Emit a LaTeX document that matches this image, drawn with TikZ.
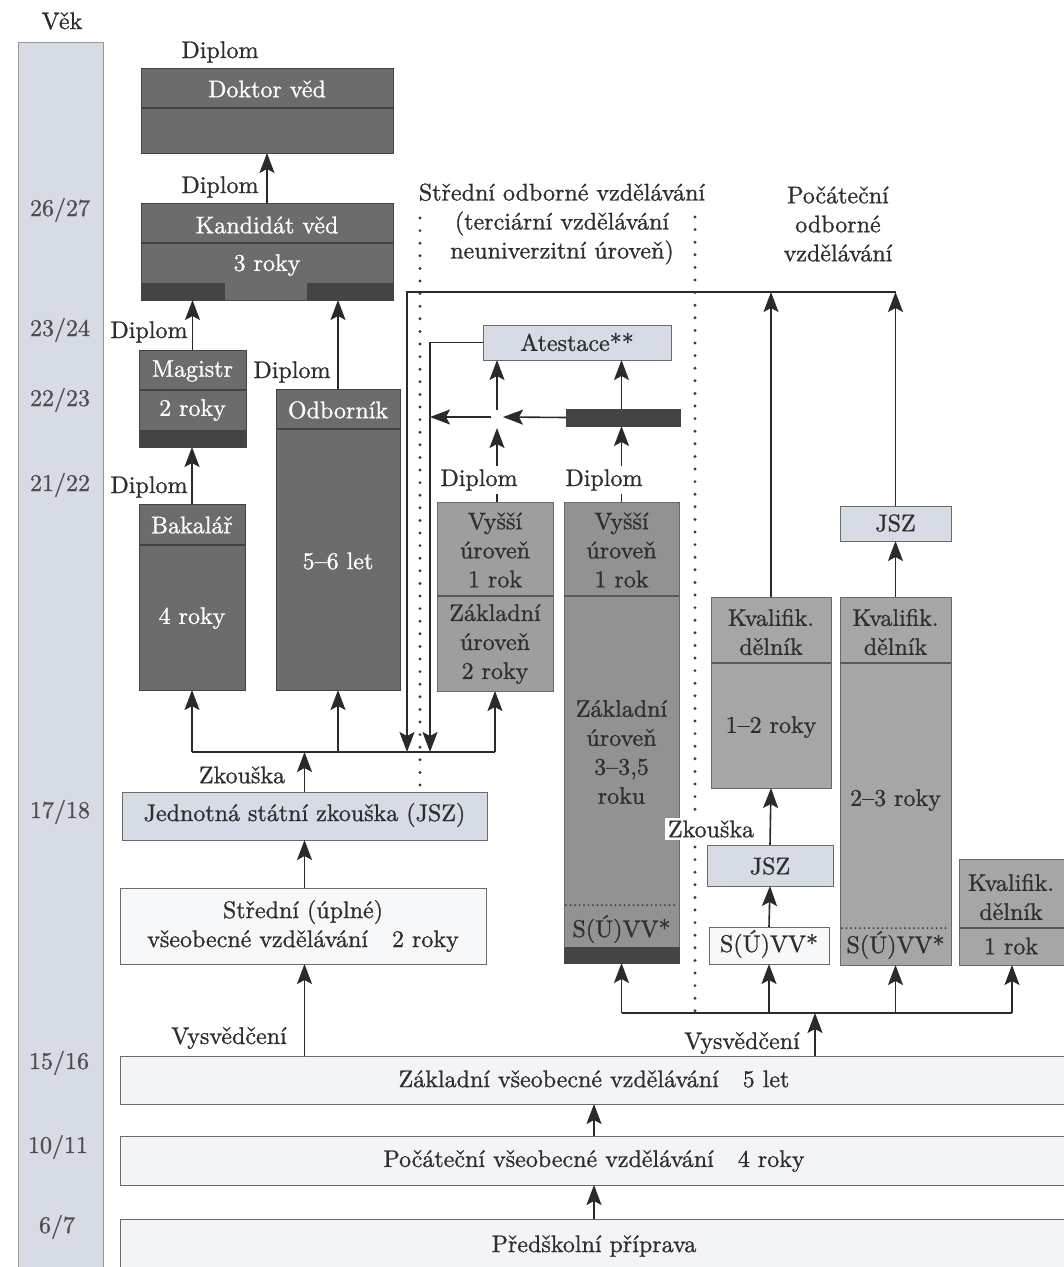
\documentclass[tikz,border=0pt]{standalone}
\usepackage{fontspec}
\newfontfamily\gfont{lmroman10-regular.otf}[FakeBold=1.0]
\usetikzlibrary{arrows.meta,calc}
\newcommand\fsz{\gfont\fontsize{24}{29}\selectfont}
\newcommand\mkbox[6]{\node[#2,minimum width={#5-#3},minimum height={#6-#4}] (#1) at ({(#3+#5)/2},{(#4+#6)/2}) {};}
\definecolor{agec}{HTML}{D6DBE6}
\definecolor{dk}{HTML}{6C6C6C}
\definecolor{dkbar}{HTML}{444444}
\definecolor{mida}{HTML}{9E9E9E}
\definecolor{midb}{HTML}{929292}
\definecolor{midc}{HTML}{A6A6A6}
\definecolor{lb}{HTML}{D6DBE6}
\definecolor{wb}{HTML}{F7F8FA}
\definecolor{botc}{HTML}{F2F4F8}
\definecolor{txtc}{HTML}{2E2E2E}
\definecolor{linec}{HTML}{2A2A2A}
\definecolor{bordc}{HTML}{6A6A6A}
\definecolor{dotc}{HTML}{3A3A3A}
\begin{document}
\begin{tikzpicture}[x=1pt,y=-1pt,
  every node/.style={inner sep=0pt,outer sep=0pt},
  txt/.style={font=\fsz,text=txtc,align=center},
  wtxt/.style={font=\fsz,text=white,align=center},
  agel/.style={font=\fsz,text=txtc!85},
  lbl/.style={font=\fsz,text=txtc},
  wlbl/.style={font=\fsz,text=txtc,fill=white,inner sep=3pt},
  basebox/.style={draw=bordc,line width=0.9pt},
  agebox/.style={basebox,fill=agec,draw=bordc!70},
  dkbox/.style={basebox,fill=dk,draw=dkbar},
  mabox/.style={basebox,fill=mida},
  mbbox/.style={basebox,fill=midb},
  mcbox/.style={basebox,fill=midc},
  lbbox/.style={basebox,fill=lb},
  wbox/.style={basebox,fill=wb},
  botbox/.style={basebox,fill=botc},
  barbox/.style={fill=dkbar,draw=dkbar,line width=0.9pt},
  dkdiv/.style={line width=1.3pt,draw=dkbar},
  mdiv/.style={line width=1.3pt,draw=black!65},
  ddiv/.style={line width=2pt,line cap=round,dash pattern=on 0pt off 4.5pt,draw=dotc},
  arr/.style={-{Stealth[length=20pt,width=15pt,inset=4pt]},line width=1.6pt,draw=linec},
  ln/.style={line width=1.6pt,draw=linec},
  dots/.style={line width=3.2pt,line cap=round,dash pattern=on 0pt off 12.6pt,draw=dotc},
]
\useasboundingbox (0,0) rectangle (1064,1267);
\fill[white] (0,0) rectangle (1064,1267);
\clip (0,0) rectangle (1064,1267);

% ---------- age column ----------
\mkbox{age}{agebox}{18}{42}{103}{1290}
\node[lbl] (vek) at (62,21) {Věk};
\node[agel] (a1) at (60,210) {26/27};
\node[agel] (a2) at (60,330) {23/24};
\node[agel] (a3) at (60,400) {22/23};
\node[agel] (a4) at (60,485) {21/22};
\node[agel] (a5) at (60,812) {17/18};
\node[agel] (a6) at (59,1063) {15/16};
\node[agel] (a7) at (58,1147) {10/11};
\node[agel] (a8) at (57,1227) {6/7};

% ---------- dotted separators ----------
\draw[dots] (420,218) -- (420,790);
\draw[dots] (695,217) -- (695,1020);

% ---------- headers ----------
\node[txt] (h1) at (562,224) {Střední odborné vzdělávání\\(terciární vzdělávání\\neuniverzitní úroveň)};
\node[txt] (h2) at (838,224) {Počáteční\\odborné\\vzdělávání};

% ---------- university branch ----------
\mkbox{doktor}{dkbox}{141}{68}{393}{153}
\draw[dkdiv] (141,108) -- (393,108);
\node[wtxt] (tdok) at (267,89) {Doktor věd};

\mkbox{kand}{dkbox}{141}{203}{393}{300}
\draw[dkdiv] (141,243) -- (393,243);
\draw[barbox] (141,283) rectangle (224,300);
\draw[barbox] (307,283) rectangle (393,300);
\node[wtxt] (tkand) at (267,225) {Kandidát věd};
\node[wtxt] (tkand2) at (267,265) {3 roky};

\mkbox{mag}{dkbox}{139}{350}{246}{447}
\draw[dkdiv] (139,390) -- (246,390);
\draw[barbox] (139,430) rectangle (246,447);
\node[wtxt] (tmag) at (192.5,371) {Magistr};
\node[wtxt] (tmag2) at (192.5,410) {2 roky};

\mkbox{odb}{dkbox}{276}{389}{400}{690}
\draw[dkdiv] (276,429) -- (400,429);
\node[wtxt] (todb) at (338,410) {Odborník};
\node[wtxt] (todb2) at (338,561) {5–6 let};

\mkbox{bak}{dkbox}{139}{504}{245}{690}
\draw[dkdiv] (139,545) -- (245,545);
\node[wtxt] (tbak) at (192,525) {Bakalář};
\node[wtxt] (tbak2) at (192,618) {4 roky};

\mkbox{jsz}{lbbox}{122}{792}{487}{840}
\node[txt] (tjsz) at (304.5,815) {Jednotná státní zkouška (JSZ)};

\mkbox{stred}{wbox}{120}{888}{486}{964}
\node[txt] (tstred) at (303,926) {Střední (úplné)\\všeobecné vzdělávání\quad 2 roky};

% ---------- general education (bottom) ----------
\mkbox{zakl}{botbox}{120}{1056}{1070}{1104}
\node[txt] (tzakl) at (594,1079) {Základní všeobecné vzdělávání\quad 5 let};
\mkbox{poc}{botbox}{120}{1136}{1070}{1185}
\node[txt] (tpoc) at (594,1161) {Počáteční všeobecné vzdělávání\quad 4 roky};
\mkbox{pred}{botbox}{120}{1219}{1070}{1290}
\node[txt] (tpred) at (594,1246) {Předškolní příprava};

% ---------- secondary vocational ----------
\mkbox{atest}{lbbox}{483}{325}{671}{360}
\node[txt] (tatest) at (577,342) {Atestace**};
\mkbox{bar}{barbox}{566}{409}{680}{426}

\mkbox{vys1}{mabox}{437}{502}{553}{691}
\draw[mdiv] (437,596) -- (553,596);
\node[txt] (tv1a) at (495,550) {Vyšší\\úroveň\\1 rok};
\node[txt] (tv1b) at (495,644) {Základní\\úroveň\\2 roky};

\mkbox{vys2}{mbbox}{564}{502}{679}{963}
\draw[mdiv] (564,596) -- (679,596);
\draw[ddiv] (566,905) -- (677,905);
\draw[barbox] (564,947) rectangle (679,963);
\node[txt] (tv2a) at (621.5,550) {Vyšší\\úroveň\\1 rok};
\node[txt] (tv2b) at (621.5,752) {Základní\\úroveň\\3–3,5\\roku};
\node[txt] (tv2c) at (621.5,929) {S(Ú)VV*};

% ---------- initial vocational ----------
\mkbox{kv1}{mcbox}{711}{597}{831}{788}
\draw[mdiv] (711,663) -- (831,663);
\node[txt] (tk1a) at (771,632) {Kvalifik.\\dělník};
\node[txt] (tk1b) at (771,727) {1–2 roky};

\mkbox{jszs}{lbbox}{707}{845}{833}{886}
\node[txt] (tjszs) at (770,866) {JSZ};
\mkbox{svv}{wbox}{709}{927}{829}{964}
\node[txt] (tsvv) at (769,944) {S(Ú)VV*};

\mkbox{jsz2}{lbbox}{840}{506}{951}{541}
\node[txt] (tjsz2) at (895.5,523) {JSZ};
\mkbox{kv2}{mcbox}{840}{597}{951}{965}
\draw[mdiv] (840,663) -- (951,663);
\draw[ddiv] (842,928) -- (949,928);
\node[txt] (tk2a) at (895.5,632) {Kvalifik.\\dělník};
\node[txt] (tk2b) at (895.5,800) {2–3 roky};
\node[txt] (tk2c) at (895.5,945) {S(Ú)VV*};

\mkbox{kv3}{mcbox}{959}{859}{1065}{965}
\draw[mdiv] (959,928) -- (1065,928);
\node[txt] (tk3a) at (1011,897) {Kvalifik.\\dělník};
\node[txt] (tk3b) at (1011,946) {1 rok};

% ---------- connectors: university ----------
\draw[arr] (kand.north) -- (doktor.south);
\draw[arr] (mag.north) -- (mag.north |- kand.south);
\draw[arr] (odb.north) -- (odb.north |- kand.south);
\draw[arr] (bak.north) -- (bak.north |- mag.south);

\coordinate (hl) at (0,752);
\draw[ln] (bak.south |- hl) -- (vys1.south |- hl);
\draw[arr] (bak.south |- hl) -- (bak.south);
\draw[arr] (odb.south |- hl) -- (odb.south);
\draw[arr] (vys1.south |- hl) -- (vys1.south);
\draw[arr] (jsz.north) -- (jsz.north |- hl);
\draw[arr] (stred.north -| jsz.north) -- (jsz.south);
\draw[arr] (zakl.north -| jsz.north) -- (stred.south -| jsz.north);

% ---------- connectors: bottom ----------
\coordinate (mid) at (594,0);
\draw[arr] (pred.north -| mid) -- (poc.south -| mid);
\draw[arr] (poc.north -| mid) -- (zakl.south -| mid);

\coordinate (va) at (815,1013);
\draw[arr] (zakl.north -| va) -- (va);
\draw[ln] (vys2.south |- va) -- (kv3.south |- va);
\draw[arr] (vys2.south |- va) -- (vys2.south);
\draw[arr] (svv.south |- va) -- (svv.south);
\draw[arr] (kv2.south |- va) -- (kv2.south);
\draw[arr] (kv3.south |- va) -- (kv3.south);

% ---------- connectors: vocational ----------
\draw[arr] (svv.north) -- (jszs.south);
\draw[arr] (jszs.north) -- (kv1.south);
\draw[arr] (kv2.north) -- (jsz2.south);

\coordinate (tl) at (407,292);
\draw[arr] (kv1.north) -- (kv1.north |- tl);
\draw[arr] (jsz2.north) -- (jsz2.north |- tl);
\draw[arr] (jsz2.north |- tl) -- (tl) -- (tl |- hl);

\coordinate (iv) at (430,343);
\draw[arr] (atest.west) -- (atest.west -| iv) -- (iv |- hl);

\coordinate (j) at (497,417);
\draw[arr] (vys1.north -| j) -- ($(j)+(0,11)$);
\draw[arr] ($(j)+(0,-7)$) -- (atest.south -| j);
\draw[arr] (bar.west) -- ($(j)+(6,0)$);
\draw[arr] ($(j)+(-6,0)$) -- (iv |- j);
\draw[arr] (vys2.north) -- (vys2.north |- bar.south);
\draw[arr] (bar.north -| vys2.north) -- (atest.south -| vys2.north);

% ---------- labels ----------
\node[lbl] (d1) at (220,52) {Diplom};
\node[lbl] (d2) at (220,187) {Diplom};
\node[lbl] (d3) at (149,332) {Diplom};
\node[lbl] (d4) at (292,372) {Diplom};
\node[lbl] (d5) at (149,487) {Diplom};
\node[wlbl] (d6) at (479,480) {Diplom};
\node[wlbl] (d7) at (604,480) {Diplom};
\node[lbl] (z1) at (242,775) {Zkouška};
\node[wlbl] (z2) at (711,829) {Zkouška};
\node[lbl] (v1) at (229,1038) {Vysvědčení};
\node[lbl] (v2) at (742,1043) {Vysvědčení};
\end{tikzpicture}
\end{document}
